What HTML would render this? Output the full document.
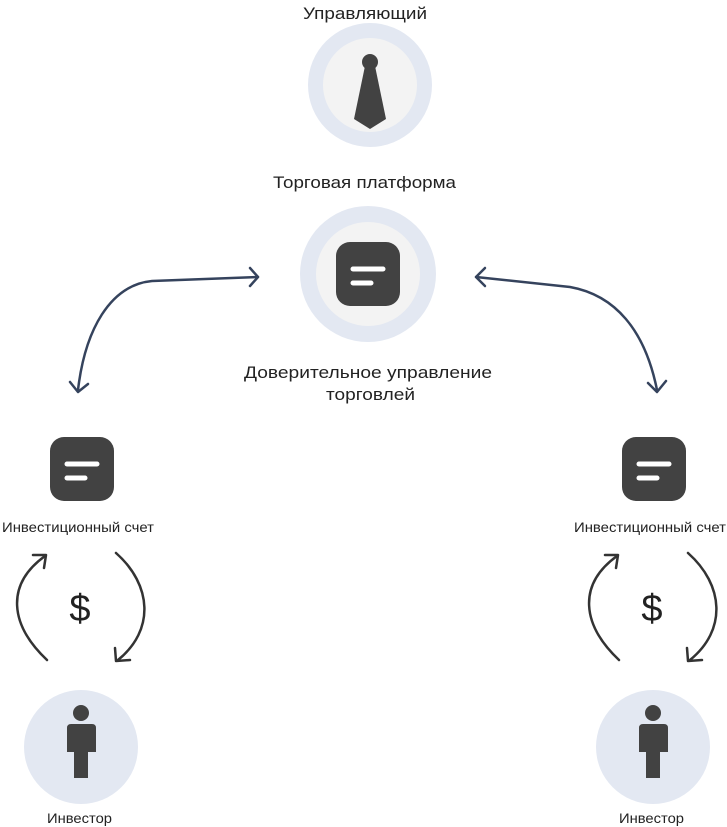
<!DOCTYPE html>
<html><head><meta charset="utf-8"><style>
body{margin:0;background:#fff;width:727px;height:827px;overflow:hidden}
svg{display:block}
text{font-family:"Liberation Sans",sans-serif;fill:#222}
</style></head><body>
<svg width="727" height="827" viewBox="0 0 727 827">
<text x="303" y="19" font-size="17" textLength="124" lengthAdjust="spacingAndGlyphs">Управляющий</text>
<circle cx="370" cy="85" r="62" fill="#e3e8f2"/>
<circle cx="370" cy="85" r="47" fill="#f3f3f3"/>
<circle cx="370" cy="62" r="8" fill="#424242"/>
<polygon points="365,66 375,66 386,119 370,129 354,119" fill="#424242"/>
<text x="273" y="188" font-size="17" textLength="183" lengthAdjust="spacingAndGlyphs">Торговая платформа</text>
<circle cx="368" cy="274" r="68" fill="#e3e8f2"/>
<circle cx="368" cy="274" r="52" fill="#f3f3f3"/>
<rect x="336" y="242" width="64" height="64" rx="14" fill="#424242"/>
<line x1="353" y1="269" x2="383" y2="269" stroke="#fff" stroke-width="5" stroke-linecap="round"/>
<line x1="353" y1="283" x2="371" y2="283" stroke="#fff" stroke-width="5" stroke-linecap="round"/>
<text x="244" y="378" font-size="17" textLength="248" lengthAdjust="spacingAndGlyphs">Доверительное управление</text>
<text x="326" y="400" font-size="17" textLength="89" lengthAdjust="spacingAndGlyphs">торговлей</text>
<g fill="none" stroke="#35435d" stroke-width="2.5" stroke-linecap="round" stroke-linejoin="round">
<path d="M258,277 L152,281 C110,285 85,330 78,390"/>
<path d="M250,268 L258,277 L250,286"/>
<path d="M70,382 L78,392 L88,384"/>
<path d="M476,277 L570,287 C615,295 645,330 657,390"/>
<path d="M485,268 L476,277 L485,286"/>
<path d="M648,383 L657,392 L666,381"/>
</g>
<g id="side">
<rect x="50" y="437" width="64" height="64" rx="14" fill="#424242"/>
<line x1="67" y1="464" x2="97" y2="464" stroke="#fff" stroke-width="5" stroke-linecap="round"/>
<line x1="67" y1="478" x2="85" y2="478" stroke="#fff" stroke-width="5" stroke-linecap="round"/>
<text x="2" y="532" font-size="14" textLength="152" lengthAdjust="spacingAndGlyphs">Инвестиционный счет</text>
<text x="80" y="621" font-size="38" text-anchor="middle" fill="#333">$</text>
<g fill="none" stroke="#333" stroke-width="2.5" stroke-linecap="round" stroke-linejoin="round">
<path d="M47,660 C10,625 5,585 45,556"/>
<path d="M33,555 L46,555 L44,568"/>
<path d="M116,553 C152,585 155,630 118,660"/>
<path d="M115,648 L116,661 L130,660"/>
</g>
<circle cx="81" cy="747" r="57" fill="#e3e8f2"/>
<circle cx="81" cy="713" r="8" fill="#424242"/>
<path d="M67,728 Q67,724 71,724 L92,724 Q96,724 96,728 L96,752 L88,752 L88,778 L74,778 L74,752 L67,752 Z" fill="#424242"/>
<text x="47" y="823" font-size="14" textLength="65" lengthAdjust="spacingAndGlyphs">Инвестор</text>
</g>
<use href="#side" x="572"/>
</svg>
</body></html>
